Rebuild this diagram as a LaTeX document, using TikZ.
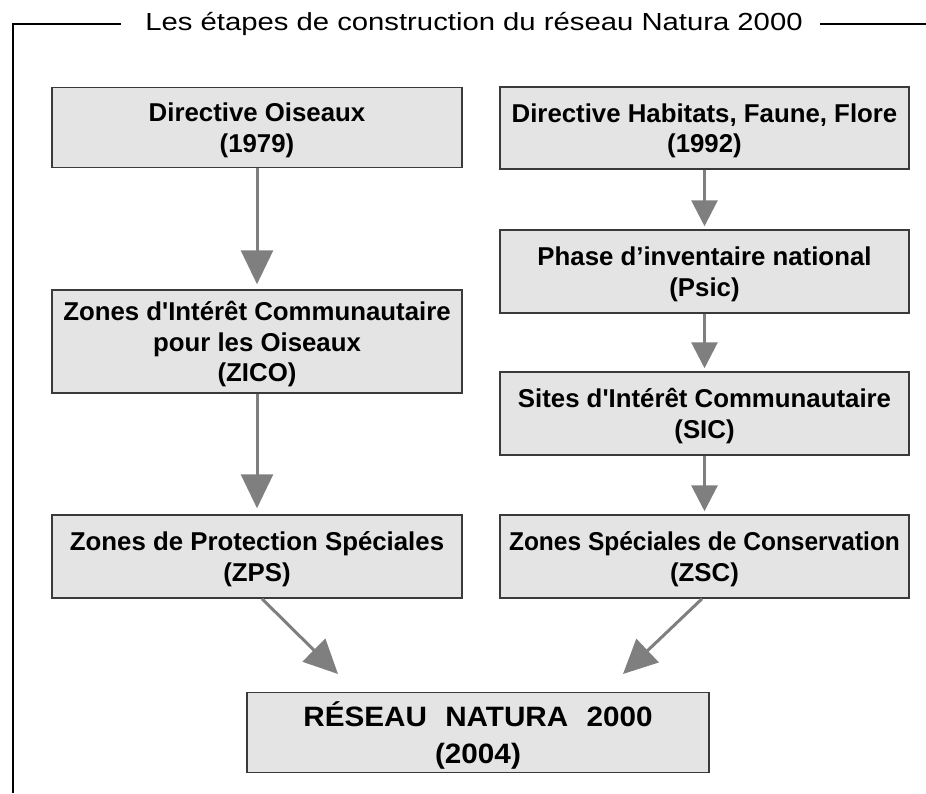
\documentclass[tikz,border=0pt]{standalone}
\usepackage{fontspec}
\setmainfont{Liberation Sans}
\newfontfamily\titlefont[FakeStretch=1.185]{Liberation Sans}
\newfontfamily\netfont[FakeStretch=1.06]{Liberation Sans}
\usetikzlibrary{arrows.meta}
\definecolor{boxfill}{HTML}{E4E4E4}
\definecolor{boxline}{HTML}{3A3A3A}
\definecolor{arrowgray}{HTML}{7F7F7F}
\tikzset{
  stagebox/.style={draw=boxline, line width=1.5pt, fill=boxfill, align=center,
    inner sep=0pt, minimum width=410pt, text depth=0pt,
    font=\bfseries\fontsize{25.8}{30.5}\selectfont},
  netbox/.style={draw=boxline, line width=1.5pt, fill=boxfill, align=center,
    inner sep=0pt, minimum width=462pt, minimum height=80pt, text depth=0pt,
    font=\netfont\bfseries\fontsize{28}{36.7}\selectfont},
  bigarrow/.style={draw=arrowgray, line width=3pt,
    -{Triangle[length=34pt,width=32pt]}},
  smallarrow/.style={draw=arrowgray, line width=3pt,
    -{Triangle[length=26pt,width=26pt]}},
  framel/.style={draw=black, line width=2pt}
}
\begin{document}
\begin{tikzpicture}[x=1pt,y=-1pt]
\useasboundingbox (0,0) rectangle (926,793);
% frame
\draw[framel] (121,23.5) -- (13,23.5) -- (13,793);
\draw[framel] (820,23.5) -- (926,23.5);
\node[anchor=base, inner sep=0pt, font=\titlefont\fontsize{24.7}{28}\selectfont]
  (title) at (474,30.5) {Les étapes de construction du réseau Natura 2000};
% left column
\node[stagebox, minimum height=80pt] (oiseaux) at (257,127.5) {Directive Oiseaux\\(1979)};
\node[stagebox, minimum height=103pt] (zico) at (257,341.5) {Zones d\textquotesingle Intérêt Communautaire\\pour les Oiseaux\\(ZICO)};
\node[stagebox, minimum height=83pt] (zps) at (257,556.5) {Zones de Protection Spéciales\\(ZPS)};
% right column
\node[stagebox, minimum width=409pt, minimum height=82pt] (habitats) at (704.5,128) {Directive Habitats, Faune, Flore\\(1992)};
\node[stagebox, minimum width=409pt, minimum height=83pt] (psic) at (704.5,271.5) {Phase d’inventaire national\\(Psic)};
\node[stagebox, minimum width=409pt, minimum height=83pt] (sic) at (704.5,413.5) {Sites d\textquotesingle Intérêt Communautaire\\(SIC)};
\node[stagebox, minimum width=409pt, minimum height=83pt] (zsc) at (704.5,556.5) {\scalebox{0.95}[1]{Zones Spéciales de Conservation}\\(ZSC)};
% final
\node[netbox] (net) at (478,732.5) {RÉSEAU\hspace{0.65em}NATURA\hspace{0.65em}2000\\(2004)};
% connectors
\coordinate (tipL) at (338,674);
\coordinate (tipR) at (623,674);
\draw[bigarrow, shorten >=5pt] (oiseaux.south) -- (zico.north);
\draw[bigarrow, shorten >=6pt] (zico.south) -- (zps.north);
\draw[smallarrow, shorten >=3pt] (habitats.south) -- (psic.north);
\draw[smallarrow, shorten >=3pt] (psic.south) -- (sic.north);
\draw[smallarrow, shorten >=3pt] (sic.south) -- (zsc.north);
\draw[bigarrow] ([xshift=5pt]zps.south) -- (tipL);
\draw[bigarrow] ([xshift=-2.5pt]zsc.south) -- (tipR);
\end{tikzpicture}
\end{document}
